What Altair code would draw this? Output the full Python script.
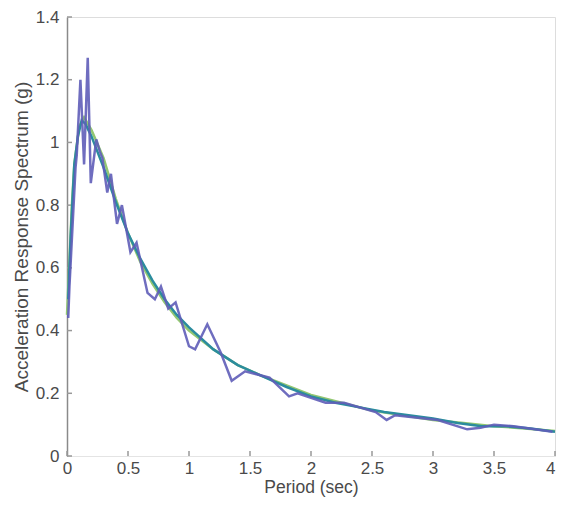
import altair as alt
import pandas as pd

# Record spectrum (jagged, purple)
rec_t = [0.01, 0.02, 0.07, 0.08, 0.11, 0.14, 0.17, 0.195, 0.24, 0.27, 0.29, 0.33, 0.36,
         0.41, 0.45, 0.52, 0.57, 0.66, 0.72, 0.77, 0.83, 0.89, 1.0, 1.05, 1.15, 1.26,
         1.35, 1.46, 1.66, 1.82, 1.89, 2.12, 2.27, 2.53, 2.62, 2.69, 3.04, 3.28, 3.39,
         3.5, 3.66, 3.98]
rec_sa = [0.44, 0.54, 0.92, 0.96, 1.20, 0.93, 1.27, 0.87, 1.01, 0.97, 0.95, 0.84, 0.90,
          0.74, 0.80, 0.65, 0.68, 0.52, 0.50, 0.54, 0.47, 0.49, 0.35, 0.34, 0.42, 0.33,
          0.24, 0.27, 0.25, 0.19, 0.20, 0.17, 0.17, 0.14, 0.115, 0.13, 0.115, 0.085, 0.09,
          0.10, 0.095, 0.077]

# Mean spectrum (teal)
mean_t = [0.01, 0.03, 0.06, 0.09, 0.12, 0.15, 0.2, 0.25, 0.3, 0.4, 0.5, 0.6, 0.7, 0.8,
          0.9, 1.0, 1.2, 1.4, 1.6, 1.8, 2.0, 2.2, 2.4, 2.6, 2.8, 3.0, 3.2, 3.4, 3.6, 3.8, 4.0]
mean_sa = [0.50, 0.70, 0.93, 1.02, 1.07, 1.06, 1.02, 0.97, 0.92, 0.81, 0.71, 0.63, 0.56,
           0.50, 0.45, 0.41, 0.34, 0.29, 0.255, 0.22, 0.19, 0.17, 0.155, 0.14, 0.13, 0.12,
           0.105, 0.095, 0.095, 0.088, 0.077]

# Target spectrum (smooth, green)
tgt_t = [0.0, 0.02, 0.04, 0.06, 0.1, 0.14, 0.2, 0.3, 0.4, 0.5, 0.6, 0.7, 0.8, 0.9, 1.0,
         1.2, 1.4, 1.6, 1.8, 2.0, 2.25, 2.5, 2.75, 3.0, 3.25, 3.5, 3.75, 4.0]
tgt_sa = [0.45, 0.62, 0.80, 0.93, 1.05, 1.08, 1.04, 0.95, 0.82, 0.71, 0.62, 0.55, 0.49,
          0.44, 0.40, 0.34, 0.29, 0.255, 0.225, 0.195, 0.17, 0.145, 0.13, 0.115, 0.105,
          0.095, 0.088, 0.08]

x_ticks = [0, 0.5, 1, 1.5, 2, 2.5, 3, 3.5, 4]
y_ticks = [0, 0.2, 0.4, 0.6, 0.8, 1, 1.2, 1.4]

df = pd.concat([
    pd.DataFrame({"t": tgt_t, "sa": tgt_sa, "s": "target"}),
    pd.DataFrame({"t": mean_t, "sa": mean_sa, "s": "mean"}),
    pd.DataFrame({"t": rec_t, "sa": rec_sa, "s": "record"}),
])

W, H = 488, 439
FONT = "Liberation Sans"
TXT = "#4a4a4a"

xs = alt.Scale(domain=[0, 4], nice=False)
ys = alt.Scale(domain=[0, 1.4], nice=False)

def line(name, color, width, opacity=1.0):
    return alt.Chart(df[df.s == name]).mark_line(
        color=color, strokeWidth=width, opacity=opacity, interpolate="linear"
    ).encode(
        x=alt.X("t:Q", scale=xs, title="Period (sec)",
                axis=alt.Axis(values=x_ticks, format="~g", grid=False, tickSize=0,
                              labelPadding=4, domainColor="#e4e4e4", labelFont=FONT,
                              labelFontSize=17, labelColor=TXT, titleFont=FONT,
                              titleFontSize=17.5, titleFontWeight="normal", titleColor=TXT,
                              titlePadding=2, labelFlush=False,
                              labelAlign={"condition": {"test": "datum.value >= 4",
                                                        "value": "right"},
                                          "value": "center"})),
        y=alt.Y("sa:Q", scale=ys, title="Acceleration Response Spectrum (g)",
                axis=alt.Axis(values=y_ticks, format="~g", grid=False, tickSize=0,
                              labelPadding=8, domainColor="#8a8a8a", domainWidth=1.5,
                              labelFont=FONT, labelFontSize=17, labelColor=TXT,
                              titleFont=FONT, titleFontSize=19, titleFontWeight="normal",
                              titleColor=TXT, titlePadding=4, labelFlush=False)),
        order="t:Q",
    )

xt = alt.Chart(pd.DataFrame({"v": x_ticks})).mark_rule(color="#999", strokeWidth=1.5).encode(
    x=alt.X("v:Q", scale=xs), y=alt.value(H), y2=alt.value(H - 5))
yt = alt.Chart(pd.DataFrame({"v": y_ticks})).mark_rule(color="#999", strokeWidth=1.5).encode(
    y=alt.Y("v:Q", scale=ys), x=alt.value(0), x2=alt.value(5))

chart = alt.layer(
    xt, yt,
    line("target", "#93c772", 2.5),
    line("mean", "#2b8c9e", 2.5),
    line("record", "#5f5db8", 2.5, 0.9),
).properties(
    width=W, height=H,
    autosize=alt.AutoSizeParams(type="none"),
    padding={"left": 59, "top": 9, "right": 2, "bottom": 42},
).configure_view(stroke=None).configure(background="white")

chart.save("out.html", embed_options={"renderer": "svg", "actions": False})
